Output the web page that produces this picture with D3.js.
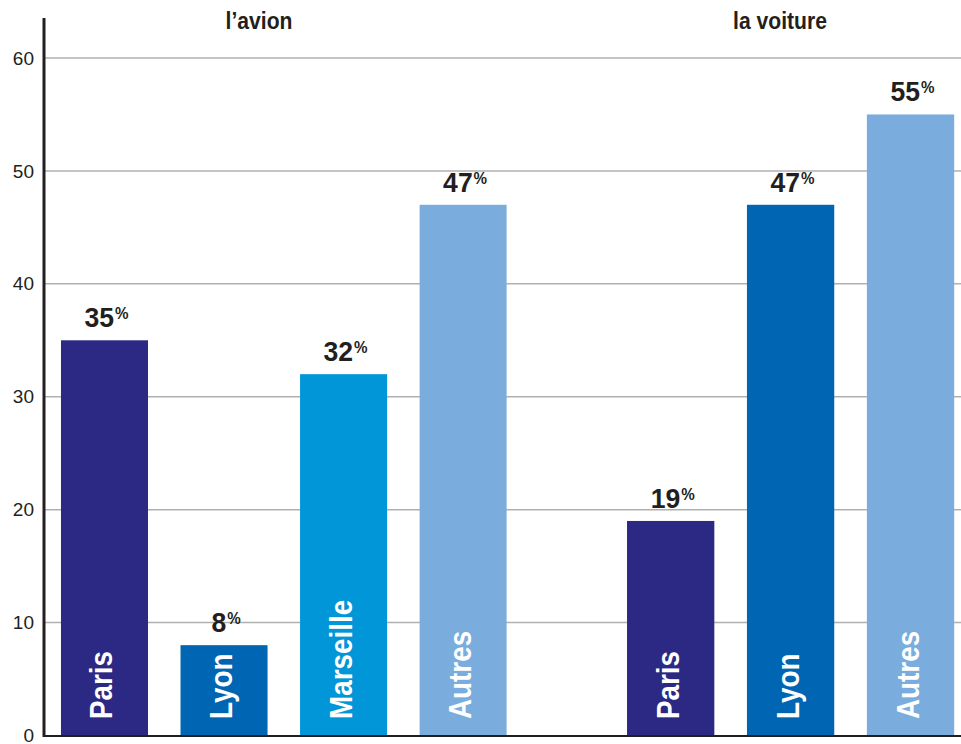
<!DOCTYPE html>
<meta charset="utf-8">
<style>
    body { margin: 0; background: #fff; }
    text { font-family: "Liberation Sans", Arial, sans-serif; }
    .tick text { font-size: 19px; fill: #231f20; }
    .title { font-size: 24px; font-weight: bold; fill: #231f20; }
    .val { font-size: 28px; font-weight: bold; fill: #231f20; }
    .cat { font-size: 32px; font-weight: bold; fill: #fff; }
</style>
<svg width="961" height="744"></svg>
<script src="https://d3js.org/d3.v7.min.js"></script>
<script>

    var groups = ["l\u2019avion", "la voiture"];
    var avionCities = ["Paris", "Lyon", "Marseille", "Autres"];
    var avionValues = [35, 8, 32, 47];
    var voitureCities = ["Paris", "Lyon", "Autres"];
    var voitureValues = [19, 47, 55];
    var yTicks = [0, 10, 20, 30, 40, 50, 60];

    var colors = {
        "Paris": "#2b2984",
        "Lyon": "#0065b2",
        "Marseille": "#0096d7",
        "Autres": "#7aaddd"
    };

    var svg = d3.select("svg");

    var y = d3.scaleLinear()
        .domain([0, 60])
        .range([735.5, 58]);

    // gridlines
    svg.append("g")
        .selectAll("line")
        .data(yTicks.filter(d => d > 0))
        .enter().append("line")
        .attr("x1", 45).attr("x2", 961)
        .attr("y1", d => y(d)).attr("y2", d => y(d))
        .attr("stroke", "#b0b0b0")
        .attr("stroke-width", 1.5);

    var xAvion = d3.scaleBand()
        .domain(avionCities)
        .range([44.6, 523])
        .paddingInner(0.272)
        .paddingOuter(0.137);

    var xVoiture = d3.scaleBand()
        .domain(voitureCities)
        .range([610.6, 970.6])
        .paddingInner(0.272)
        .paddingOuter(0.137);

    var sets = [
        {title: groups[0], x: xAvion, cities: avionCities, values: avionValues, cx: 259},
        {title: groups[1], x: xVoiture, cities: voitureCities, values: voitureValues, cx: 780}
    ];

    sets.forEach(function (s) {
        var data = s.cities.map((c, i) => ({city: c, value: s.values[i]}));
        var g = svg.append("g");

        g.selectAll("rect")
            .data(data)
            .enter().append("rect")
            .attr("x", d => s.x(d.city))
            .attr("width", s.x.bandwidth())
            .attr("y", d => y(d.value))
            .attr("height", d => y(0) - y(d.value))
            .attr("fill", d => colors[d.city]);

        var lab = g.selectAll(".val")
            .data(data)
            .enter().append("text")
            .attr("class", "val")
            .attr("text-anchor", "middle")
            .attr("transform", d => "translate(" + (s.x(d.city) + s.x.bandwidth() / 2 + 2) + "," + (y(d.value) - 13) + ") scale(0.95,1)");
        lab.append("tspan").text(d => d.value);
        lab.append("tspan")
            .attr("font-size", "16px")
            .attr("dx", "1")
            .attr("dy", "-8")
            .text("%");

        g.selectAll(".cat")
            .data(data)
            .enter().append("text")
            .attr("class", "cat")
            .attr("transform", d => "translate(" + (s.x(d.city) + s.x.bandwidth() / 2 + 8) + "," + 719 + ") rotate(-90) scale(0.87,1)")
            .text(d => d.city);

        g.append("text")
            .attr("class", "title")
            .attr("text-anchor", "middle")
            .attr("transform", "translate(" + s.cx + ",29) scale(0.88,1)")
            .text(s.title);
    });

    // y axis
    var axis = svg.append("g")
        .attr("transform", "translate(44,0)")
        .call(d3.axisLeft(y).tickValues(yTicks).tickSize(0).tickPadding(10));
    axis.select(".domain").remove();
    axis.selectAll(".tick text").attr("font-family", null);

    svg.append("line")
        .attr("x1", 44).attr("x2", 44)
        .attr("y1", 18).attr("y2", 737)
        .attr("stroke", "#231f20")
        .attr("stroke-width", 3);

    svg.append("line")
        .attr("x1", 43).attr("x2", 961)
        .attr("y1", 736).attr("y2", 736)
        .attr("stroke", "#231f20")
        .attr("stroke-width", 2);

</script>
